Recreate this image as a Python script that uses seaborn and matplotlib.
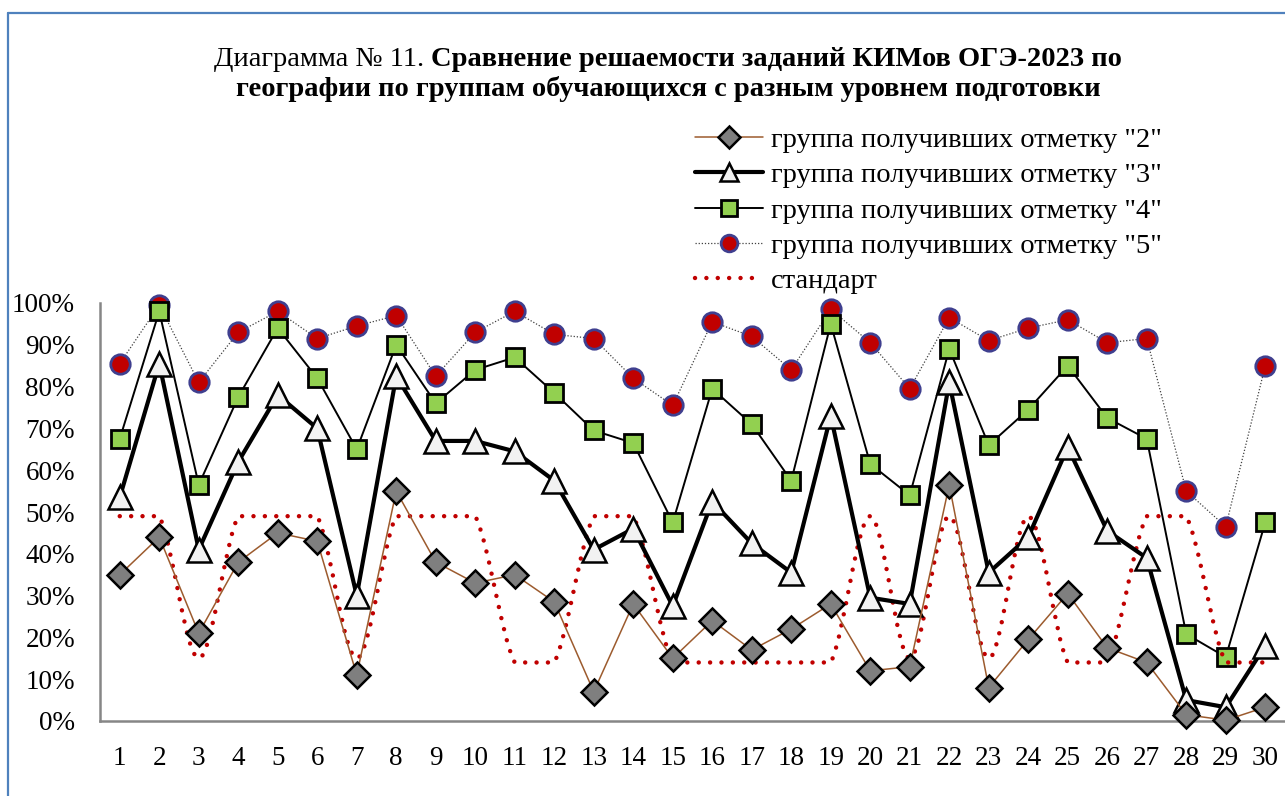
import seaborn as sns
import matplotlib.pyplot as plt
import numpy as np
from matplotlib.path import Path
from matplotlib.patches import PathPatch
from matplotlib.lines import Line2D
from matplotlib.ticker import PercentFormatter, FixedLocator

# ----------- DATA -----------
tasks = list(range(1, 31))

grade2 = [35, 44, 21, 38, 45, 43, 11, 55, 38, 33, 35, 28.5, 7, 28, 15,
          24, 17, 22, 28, 12, 13, 56.5, 8, 19.5, 30.5, 17.5, 14, 1.5, 0.2, 3.3]
grade3 = [53.5, 85.5, 41, 62, 78, 70, 30, 82.5, 67, 67, 64.5, 57.5, 41, 46, 27.5,
          52.5, 42.5, 35.5, 73, 29.5, 28, 81, 35.5, 44, 65.5, 45.5, 39, 5, 3.3, 18]
grade4 = [67.5, 98, 56.5, 77.5, 94, 82, 65, 90, 76, 84, 87, 78.5, 69.5, 66.5, 47.5,
          79.5, 71, 57.5, 95, 61.5, 54, 89, 66, 74.5, 85, 72.5, 67.5, 20.8, 15.3, 47.5]
grade5 = [85.5, 99.5, 81, 93, 98, 91.5, 94.5, 97, 82.5, 93, 98, 92.5, 91.5, 82, 75.5,
          95.5, 92, 84, 98.5, 90.5, 79.5, 96.5, 91, 94, 96, 90.5, 91.5, 55, 46.5, 85]
standard = [49, 49, 15, 49, 49, 49, 15, 49, 49, 49, 14, 14, 49, 49, 14,
            14, 14, 14, 14, 49, 15, 49, 15, 49, 14, 14, 49, 49, 14, 14]

labels = ['группа получивших отметку "2"', 'группа получивших отметку "3"',
          'группа получивших отметку "4"', 'группа получивших отметку "5"', 'стандарт']

# ----------- STYLE -----------
sns.set_style("white")
plt.rcParams['font.family'] = ['Liberation Serif', 'DejaVu Serif']
plt.rcParams['text.color'] = 'black'
plt.rcParams['xtick.color'] = 'black'
plt.rcParams['ytick.color'] = 'black'

W, H = 1285, 796
AX_L, AX_R, AX_T, AX_B = 100, 1285, 303, 721
fig = plt.figure(figsize=(W / 100, H / 100), dpi=100)
ax = fig.add_axes([AX_L / W, (H - AX_B) / H, (AX_R - AX_L) / W, (AX_B - AX_T) / H])

x = np.array(tasks)

sns.lineplot(x=x, y=np.array(grade5) / 100, ax=ax, color="#404040", lw=0.9,
             linestyle=(0, (1, 1.5)), marker="o", markersize=14,
             markerfacecolor="#C00000", markeredgecolor="#3F3F8F",
             markeredgewidth=2, clip_on=False, zorder=3)
sns.lineplot(x=x, y=np.array(grade4) / 100, ax=ax, color="black", lw=1.4,
             marker="s", markersize=13, markerfacecolor="#92D050",
             markeredgecolor="black", markeredgewidth=2, clip_on=False, zorder=4)
sns.lineplot(x=x, y=np.array(grade3) / 100, ax=ax, color="black", lw=3,
             marker="^", markersize=17, markerfacecolor="#F2F2F2",
             markeredgecolor="black", markeredgewidth=1.8, clip_on=False, zorder=5)
sns.lineplot(x=x, y=np.array(grade2) / 100, ax=ax, color="#9C5B2E", lw=1.1,
             marker="D", markersize=13, markerfacecolor="#7F7F7F",
             markeredgecolor="black", markeredgewidth=1.8, clip_on=False, zorder=6)

# smoothed "standard" line: Catmull-Rom bezier, control points kept inside each segment
ax.set_xlim(0.5, 30.5)
ax.set_ylim(0, 1)
sy = np.array(standard) / 100
pts = np.column_stack([x, sy])
n = len(pts)
verts = [pts[0]]
codes = [Path.MOVETO]
for i in range(n - 1):
    p0, p1 = pts[max(i - 1, 0)], pts[i]
    p2, p3 = pts[i + 1], pts[min(i + 2, n - 1)]
    c1 = p1 + (p2 - p0) / 6
    c2 = p2 - (p3 - p1) / 6
    lo, hi = min(p1[1], p2[1]), max(p1[1], p2[1])
    c1[1] = np.clip(c1[1], lo, hi)
    c2[1] = np.clip(c2[1], lo, hi)
    verts += [c1, c2, p2]
    codes += [Path.CURVE4] * 3
std_style = dict(color="#C00000", lw=3.2, linestyle=(0, (0.01, 2.55)),
                 dash_capstyle="round")
patch = PathPatch(Path(verts, codes), fill=False, edgecolor="#C00000", lw=3.2,
                  linestyle=(0, (0.01, 2.55)), capstyle="round", zorder=4.5,
                  clip_on=False)
ax.add_patch(patch)

# ----------- AXES -----------
ax.yaxis.set_major_locator(FixedLocator(np.arange(0, 1.01, 0.1)))
ax.yaxis.set_major_formatter(PercentFormatter(1.0, decimals=0))
ax.set_xticks(tasks)
ax.set_xticklabels([str(t) for t in tasks])
ax.set_xticks(np.arange(1.5, 30.5, 1), minor=True)
ax.tick_params(axis="x", which="major", length=0, pad=18, labelsize=19.5)
ax.tick_params(axis="x", which="minor", length=6, width=1.5, direction="in",
               color="#868686")
ax.tick_params(axis="y", which="major", length=5, width=1.5, direction="out",
               color="#868686", pad=13, labelsize=19.5)
for s in ["top", "right"]:
    ax.spines[s].set_visible(False)
for s in ["left", "bottom"]:
    ax.spines[s].set_color("#868686")
    ax.spines[s].set_linewidth(1.8)
ax.set_xlabel("")
ax.set_ylabel("")

# ----------- LEGEND -----------
handles = [
    Line2D([], [], color="#9C5B2E", lw=1.1, marker="D", markersize=11,
           markerfacecolor="#7F7F7F", markeredgecolor="black", markeredgewidth=1.8),
    Line2D([], [], color="black", lw=3, marker="^", markersize=13,
           markerfacecolor="#F2F2F2", markeredgecolor="black", markeredgewidth=1.8),
    Line2D([], [], color="black", lw=1.4, marker="s", markersize=11,
           markerfacecolor="#92D050", markeredgecolor="black", markeredgewidth=2),
    Line2D([], [], color="#404040", lw=0.9, linestyle=(0, (1, 1.5)), marker="o",
           markersize=12, markerfacecolor="#C00000", markeredgecolor="#3F3F8F",
           markeredgewidth=2),
    Line2D([], [], **std_style),
]
leg = fig.legend(handles, labels, loc="upper left",
                 bbox_to_anchor=(695 / W, 1 - 127 / H), frameon=False,
                 fontsize=20.5, handlelength=2.4, handletextpad=0.28,
                 labelspacing=0.33, numpoints=1, borderaxespad=0, borderpad=0)

# ----------- TITLE -----------
fig.canvas.draw()
r = fig.canvas.get_renderer()
tsize = 20.5
t1a = fig.text(0, 1 - 59 / H, "Диаграмма № 11. ", fontsize=tsize, va="center")
t1b = fig.text(0, 1 - 59 / H, "Сравнение решаемости заданий КИМов ОГЭ-2023 по",
               fontsize=tsize, fontweight="bold", va="center")
wa = t1a.get_window_extent(r).width
wb = t1b.get_window_extent(r).width
x0 = 668 - (wa + wb) / 2
t1a.set_x(x0 / W)
t1b.set_x((x0 + wa) / W)
fig.text(668 / W, 1 - 89 / H,
         "географии по группам обучающихся с разным уровнем подготовки",
         fontsize=tsize, fontweight="bold", ha="center", va="center")

# chart frame (blue border, cut at right/bottom)
fig.add_artist(Line2D([8 / W, 8 / W], [0, 1 - 13 / H], color="#4F81BD", lw=1.6))
fig.add_artist(Line2D([8 / W, 1], [1 - 13 / H, 1 - 13 / H], color="#4F81BD", lw=1.6))

fig.savefig("out.png", dpi=100)
